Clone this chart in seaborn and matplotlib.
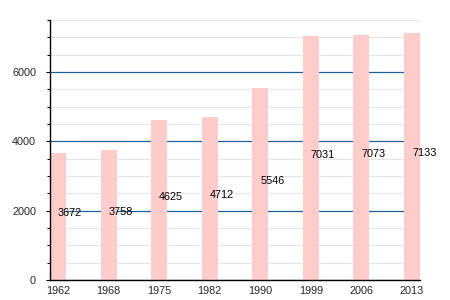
import matplotlib
matplotlib.use("Agg")
import matplotlib.pyplot as plt
import seaborn as sns
import pandas as pd
from matplotlib.ticker import MultipleLocator
from matplotlib.transforms import offset_copy

years = ["1962", "1968", "1975", "1982", "1990", "1999", "2006", "2013"]
population = [3672, 3758, 4625, 4712, 5546, 7031, 7073, 7133]

sns.set_style("white")
plt.rcParams["font.family"] = ["Liberation Sans", "DejaVu Sans"]

df = pd.DataFrame({"year": years, "pop": population})

fig = plt.figure(figsize=(4.5, 3), dpi=100)
ax = fig.add_axes([50/450, 20/300, 370/450, 260/300])

sns.barplot(data=df, x="year", y="pop", color="#ffcccc", saturation=1,
            width=0.316, ax=ax, edgecolor="none")

ax.set_xlim(-0.158, 7.158)
ax.set_ylim(0, 7500)
ax.set_xlabel("")
ax.set_ylabel("")

ax.yaxis.set_major_locator(MultipleLocator(2000))
ax.yaxis.set_minor_locator(MultipleLocator(500))
ax.grid(which="minor", axis="y", color="#e6e6e6", linewidth=0.8)
ax.grid(which="major", axis="y", color="#20609a", linewidth=0.9)
ax.set_axisbelow(True)

for s in ["top", "right"]:
    ax.spines[s].set_visible(False)
for s in ["left", "bottom"]:
    ax.spines[s].set_color("black")
    ax.spines[s].set_linewidth(1.0)

ax.tick_params(axis="y", which="major", left=True, length=3, width=0.8,
               color="black", labelsize=7.8, pad=7)
ax.tick_params(axis="y", which="minor", left=True, length=2, width=0.8,
               color="black")
ax.tick_params(axis="x", bottom=False, labelsize=7.8, pad=1)

trans = offset_copy(ax.transData, fig=fig, x=0, y=3, units="dots")
for i, v in enumerate(population):
    ax.text(i, v / 2, str(v), ha="left", va="center", fontsize=7.8,
            color="black", transform=trans)

fig.savefig("out.png", dpi=100)
